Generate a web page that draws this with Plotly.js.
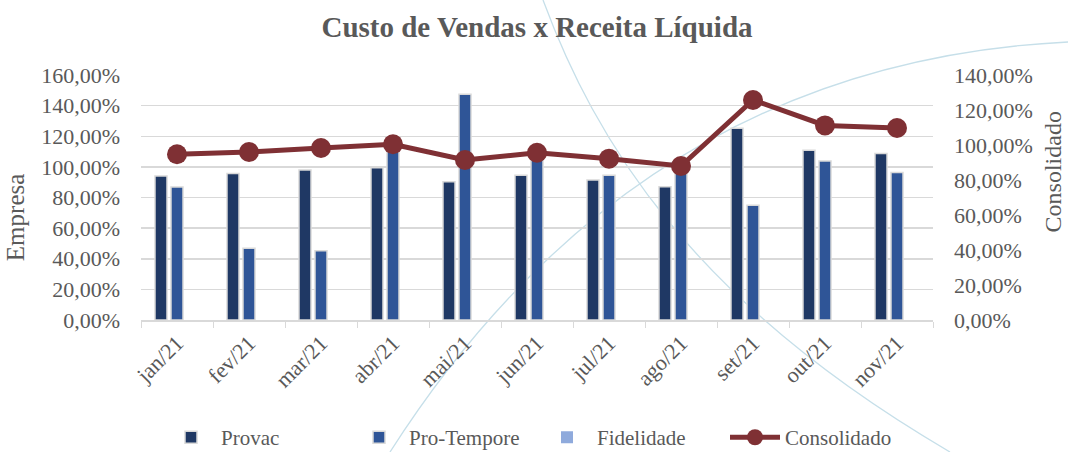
<!DOCTYPE html>
<html>
<head>
<meta charset="utf-8">
<script src="https://cdn.plot.ly/plotly-3.0.1.min.js"></script>
<style>
  html, body { margin: 0; padding: 0; background: #ffffff; }
  #wrap { position: relative; width: 1068px; height: 452px; overflow: hidden; }
  #bg { position: absolute; left: 0; top: 0; }
  #chart { position: absolute; left: 0; top: 0; width: 1068px; height: 452px; }
</style>
</head>
<body>
<div id="wrap">
  <svg id="bg" width="1068" height="452">
    <path d="M543,0 C595,140 690,300 950,452" fill="none" stroke="#c6dfe9" stroke-width="1.3"/>
    <path d="M390,452 C500,280 700,60 1068,42" fill="none" stroke="#c6dfe9" stroke-width="1.3"/>
  </svg>
  <div id="chart"></div>
</div>
<script>
const months = ["jan/21","fev/21","mar/21","abr/21","mai/21","jun/21","jul/21","ago/21","set/21","out/21","nov/21"];
const provac = [94.0, 95.6, 98.0, 99.5, 90.3, 94.5, 91.4, 87.1, 125.2, 110.8, 108.8];
const proTempore = [86.9, 46.8, 45.3, 113.0, 147.4, 107.0, 94.5, 98.0, 74.9, 103.8, 96.4];
const fidelidade = [0, 0, 0, 0, 0, 0, 0, 0, 0, 0, 0];
const consolidado = [94.7, 96.0, 98.3, 100.4, 91.4, 95.6, 92.2, 88.0, 125.7, 111.2, 109.7];

const FONT = "Liberation Serif, DejaVu Serif, serif";
const GRAY = "#595959";
const barLine = {color: "#d9d9d9", width: 1.5};

const traces = [
  {type: "bar", name: "Provac", x: months, y: provac, marker: {color: "#1f3864", line: barLine}},
  {type: "bar", name: "Pro-Tempore", x: months, y: proTempore, marker: {color: "#2f5597", line: barLine}},
  {type: "bar", name: "Fidelidade", x: months, y: fidelidade, marker: {color: "#8faadc", line: {color: "rgba(0,0,0,0)", width: 0}}},
  {type: "scatter", mode: "lines+markers", name: "Consolidado", x: months, y: consolidado, yaxis: "y2",
   line: {color: "#7f3034", width: 5}, marker: {color: "#7f3034", size: 20}}
];

const layout = {
  width: 1068, height: 452,
  paper_bgcolor: "rgba(0,0,0,0)", plot_bgcolor: "rgba(0,0,0,0)",
  margin: {l: 141, r: 135, t: 75, b: 132, autoexpand: false},
  separators: ",.",
  font: {family: FONT, color: GRAY, size: 22},
  title: {text: "<b>Custo de Vendas x Receita Líquida</b>", x: 0.5, xanchor: "center", y: 0.94, yanchor: "middle",
          xref: "paper", font: {family: FONT, size: 29, color: GRAY}},
  barmode: "group", bargap: 0.333, bargroupgap: 0.25,
  showlegend: true,
  legend: {orientation: "h", x: 0.5, xanchor: "center", y: -0.48, yanchor: "middle",
           font: {family: FONT, size: 21, color: GRAY}, traceorder: "normal", itemwidth: 50,
           entrywidth: 123, entrywidthmode: "pixels"},
  annotations: [
    {text: "Empresa", xref: "paper", yref: "paper", x: -0.159, y: 0.416, xanchor: "center", yanchor: "middle",
     textangle: -90, showarrow: false, font: {family: FONT, size: 25, color: GRAY}},
    {text: "Consolidado", xref: "paper", yref: "paper", x: 1.152, y: 0.604, xanchor: "center", yanchor: "middle",
     textangle: -90, showarrow: false, font: {family: FONT, size: 24, color: GRAY}}
  ],
  xaxis: {type: "category", range: [-0.5, 10.5], tickangle: -45, tickson: "boundaries", ticks: "outside", ticklen: 6,
          tickcolor: "#d9d9d9", showline: true, linecolor: "#d9d9d9", linewidth: 1.5, automargin: false,
          showgrid: false, tickfont: {family: FONT, size: 22, color: GRAY}, fixedrange: true},
  yaxis: {range: [0, 160], dtick: 20, tickformat: ".2f", ticksuffix: "%", showgrid: true,
          gridcolor: "#d9d9d9", gridwidth: 1.5, zeroline: false, ticklabelstandoff: 20, automargin: false,
          tickfont: {family: FONT, size: 22, color: GRAY}},
  yaxis2: {range: [0, 140], dtick: 20, tickformat: ".2f", ticksuffix: "%", overlaying: "y", side: "right",
           showgrid: false, zeroline: false, ticklabelstandoff: 20, automargin: false,
           tickfont: {family: FONT, size: 22, color: GRAY}}
};

Plotly.newPlot("chart", traces, layout, {displayModeBar: false, staticPlot: true});
</script>
</body>
</html>
